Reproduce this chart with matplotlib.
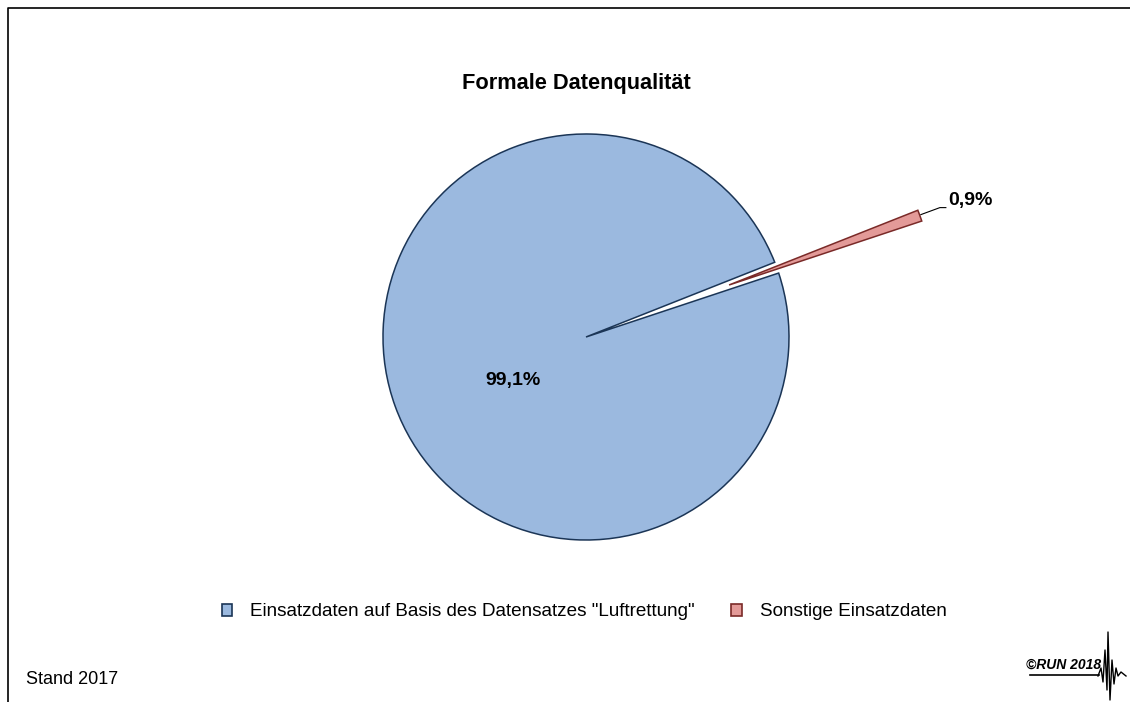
import numpy as np
import matplotlib
matplotlib.use("Agg")
import matplotlib.pyplot as plt
from matplotlib.patches import Patch
from matplotlib.lines import Line2D

plt.rcParams['font.family'] = ['Liberation Sans', 'DejaVu Sans']

# ---- data ----
categories = ['Einsatzdaten auf Basis des Datensatzes "Luftrettung"', 'Sonstige Einsatzdaten']
values = [99.1, 0.9]
value_labels = ['99,1%', '0,9%']
title = 'Formale Datenqualität'
footer = 'Stand 2017'
logo = '©RUN 2018'

colors = ['#9BB9DF', '#E39A98']
edges = ['#1B3556', '#7A2A28']

W, H = 1130, 702
fig = plt.figure(figsize=(W / 100, H / 100), dpi=100)
ax = fig.add_axes([0, 0, 1, 1])

cx, cy, R = 586, H - 337, 203
start = 21.6
explode_frac = [0, 0.75]

wedges, _ = ax.pie(values, explode=[e * R for e in explode_frac], startangle=start, radius=R,
                   center=(cx, cy), colors=colors, counterclock=True,
                   wedgeprops=dict(linewidth=1.1))
for w, ec in zip(wedges, edges):
    w.set_edgecolor(ec)

ax.set_xlim(0, W)
ax.set_ylim(0, H)
ax.set_aspect('equal')
ax.axis('off')

# labels
ax.text(513, H - 380, value_labels[0], ha='center', va='center',
        fontsize=14, fontweight='bold', color='#000000')
mid = np.deg2rad(start + 360 * values[0] / 100 + 360 * values[1] / 200)
tip_r = R * (1 + explode_frac[1])
tx, ty = cx + tip_r * np.cos(mid), cy + tip_r * np.sin(mid)
ax.plot([tx + 1, tx + 20, tx + 26], [ty + 1, ty + 8, ty + 8], color='#000000', lw=0.8)
ax.text(tx + 28, ty + 15, value_labels[1], ha='left', va='center',
        fontsize=14, fontweight='bold', color='#000000')

# title
fig.text(576 / W, 1 - 84 / H, title, ha='center', va='center',
         fontsize=15.7, fontweight='bold')

# legend
handles = [Patch(facecolor=c, edgecolor=e, linewidth=1.2) for c, e in zip(colors, edges)]
leg = fig.legend(handles, categories, loc='center', bbox_to_anchor=(584 / W, 1 - 612 / H),
                 ncol=2, frameon=False, fontsize=13.6, handlelength=0.55,
                 handleheight=0.55, handletextpad=0.95, columnspacing=1.95)

# footer
fig.text(26 / W, 1 - 679 / H, footer, ha='left', va='center', fontsize=13)

# border lines
fig.add_artist(Line2D([7.5 / W, 7.5 / W, 1.0], [0, 1 - 8 / H, 1 - 8 / H],
                      transform=fig.transFigure, color='black', lw=1.2))

# logo
fig.text(1064 / W, 1 - 665 / H, logo, ha='center', va='center', fontsize=10,
         fontweight='bold', fontstyle='italic')
fig.add_artist(Line2D([1030 / W, 1099 / W], [1 - 675 / H, 1 - 675 / H],
                      transform=fig.transFigure, color='black', lw=1.2))
wx = np.array([1098, 1101, 1103, 1105, 1107, 1108, 1110, 1112, 1114, 1116, 1118, 1121, 1126])
wy = np.array([676, 668, 682, 650, 690, 632, 700, 660, 684, 668, 676, 672, 676])
fig.add_artist(Line2D(wx / W, 1 - wy / H, transform=fig.transFigure, color='black', lw=1.0))

fig.savefig('out.png', dpi=100)
